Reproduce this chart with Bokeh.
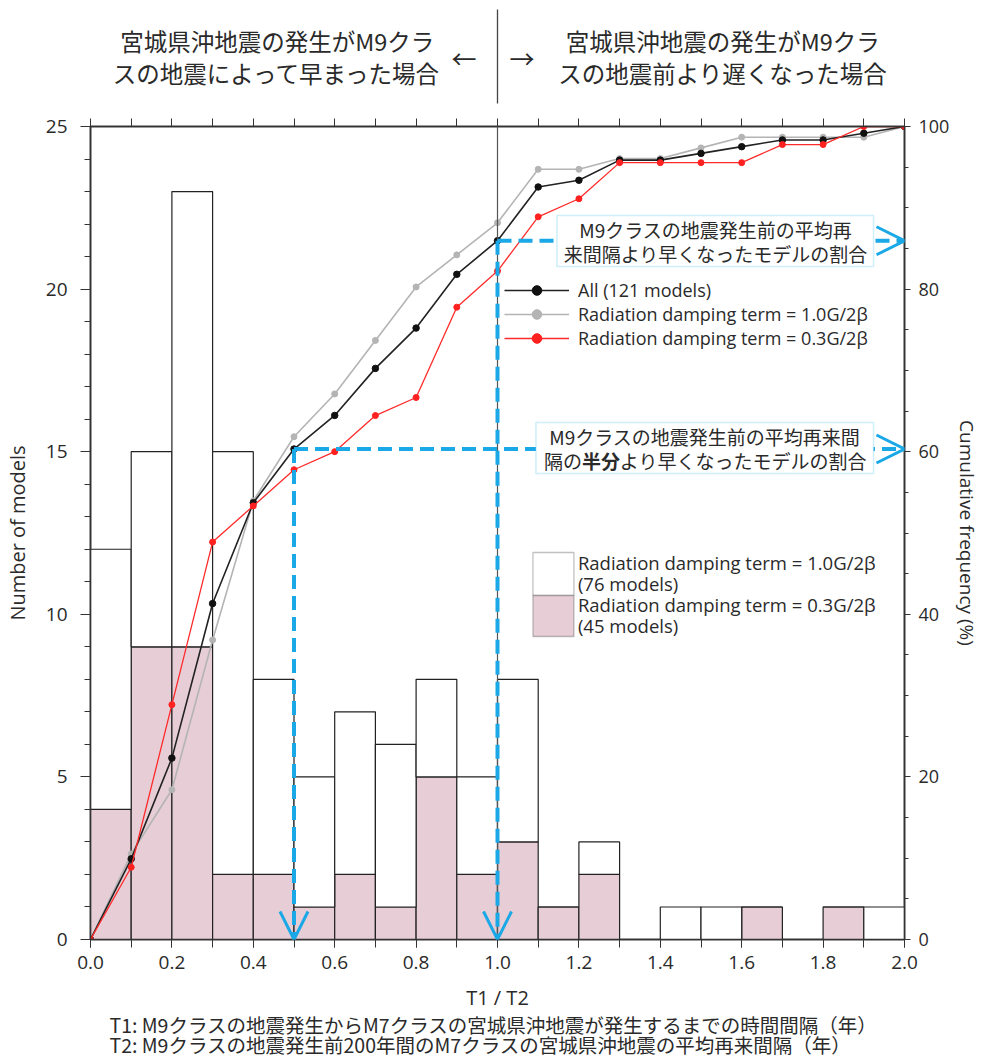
import numpy as np
from bokeh.plotting import figure
from bokeh.layouts import column
from bokeh.models import (Range1d, LinearAxis, FixedTicker, SingleIntervalTicker,
                          Legend, LegendItem, Label, Span, Arrow, OpenHead,
                          BoxAnnotation, ColumnDataSource)
from bokeh.embed import file_html
from bokeh.resources import INLINE

# ---------------- data ----------------
bin_edges = [0.0, 0.1, 0.2, 0.3, 0.4, 0.5, 0.6, 0.7, 0.8, 0.9, 1.0,
             1.1, 1.2, 1.3, 1.4, 1.5, 1.6, 1.7, 1.8, 1.9, 2.0]
# histogram counts per bin (stacked: 0.3G at bottom, 1.0G on top)
count_03 = [4, 9, 9, 2, 2, 1, 2, 1, 5, 2, 3, 1, 2, 0, 0, 0, 1, 0, 1, 0]   # 45 models
count_10 = [8, 6, 14, 13, 6, 4, 5, 5, 3, 3, 5, 0, 1, 0, 1, 1, 0, 0, 0, 1]  # 76 models

x_ticks = [0.0, 0.2, 0.4, 0.6, 0.8, 1.0, 1.2, 1.4, 1.6, 1.8, 2.0]
x_tick_labels = ["0.0", "0.2", "0.4", "0.6", "0.8", "1.0", "1.2", "1.4", "1.6", "1.8", "2.0"]

series_names = ["All (121 models)",
                "Radiation damping term = 1.0G/2\u03b2",
                "Radiation damping term = 0.3G/2\u03b2"]
hist_names = [["Radiation damping term = 1.0G/2\u03b2", "(76 models)"],
              ["Radiation damping term = 0.3G/2\u03b2", "(45 models)"]]

x_title = "T1 / T2"
top_left = ["宮城県沖地震の発生がM9クラ", "スの地震によって早まった場合"]
top_right = ["宮城県沖地震の発生がM9クラ", "スの地震前より遅くなった場合"]
box1_lines = ["M9クラスの地震発生前の平均再", "来間隔より早くなったモデルの割合"]
box2_line1 = "M9クラスの地震発生前の平均再来間"
box2_line2 = ["隔の", "半分", "より早くなったモデルの割合"]
notes = ["T1: M9クラスの地震発生からM7クラスの宮城県沖地震が発生するまでの時間間隔（年）",
         "T2: M9クラスの地震発生前200年間のM7クラスの宮城県沖地震の平均再来間隔（年）"]

# ---------------- derived ----------------
c03 = np.array(count_03)
c10 = np.array(count_10)
tot = c03 + c10
left = bin_edges[:-1]
right = bin_edges[1:]
cum_all = np.concatenate([[0], np.cumsum(tot)]) / tot.sum() * 100
cum_10 = np.concatenate([[0], np.cumsum(c10)]) / c10.sum() * 100
cum_03 = np.concatenate([[0], np.cumsum(c03)]) / c03.sum() * 100
half_pct = cum_all[bin_edges.index(0.5)]
one_pct = cum_all[bin_edges.index(1.0)]

# ---------------- layout (page pixel coordinates) ----------------
W = 993
PAGE_X0 = 0
FL, FR, FT, FB = 89, 904, 126, 939        # frame edges on the page
HEAD_H = 108
MAIN_TOP, MAIN_BOT = HEAD_H, 984
FOOT_BOT = 1060
BORDER_L = FL - PAGE_X0
BORDER_R = PAGE_X0 + W - FR
PXX = (FR - FL) / 2.0
PXY = (FB - FT) / 25.0
PXP = (FB - FT) / 100.0

def dx(px):
    return (px - FL) / PXX

def dy(py):
    return (FB - py) / PXY

def dp(py):
    return (FB - py) / PXP

FONT = "Open Sans"
JFONT = "Noto Sans CJK JP"
TXT = "#2a2a2a"
PINK = "#e6cdd6"
BLUE = "#1ba8e6"

def blank_fig(top, bot):
    # frame spans the same horizontal extent as the main frame; data x = page px
    f = figure(width=W, height=bot - top, x_range=Range1d(FL, FR),
               y_range=Range1d(bot, top), output_backend="svg", toolbar_location=None,
               x_axis_location=None, y_axis_location=None,
               min_border_left=BORDER_L, min_border_right=BORDER_R,
               min_border_top=0, min_border_bottom=0)
    f.xgrid.visible = False
    f.ygrid.visible = False
    f.outline_line_color = None
    return f

def plab(f, x, y, text, size, align="center", font=JFONT, style="normal", rng="default"):
    f.add_layout(Label(x=x, y=y, text=text, text_align=align, text_baseline="middle",
                       text_font=font, text_font_size=size, text_font_style=style,
                       text_color=TXT, y_range_name=rng))

# ---------------- header ----------------
head = blank_fig(0, HEAD_H)
plab(head, 276, 40, top_left[0], "23.5px")
plab(head, 276, 72, top_left[1], "23.5px")
plab(head, 722, 40, top_right[0], "23.5px")
plab(head, 722, 72, top_right[1], "23.5px")
plab(head, 463, 57, "\u2190", "25px")
plab(head, 521, 57, "\u2192", "25px")
xline = FL + 1.0 * PXX
head.add_layout(Arrow(x_start=xline, y_start=9, x_end=xline, y_end=103, end=None,
                      line_color="#444444", line_width=1.3))

# ---------------- main plot ----------------
p = figure(width=W, height=MAIN_BOT - MAIN_TOP, x_range=Range1d(0, 2), y_range=Range1d(0, 25),
           output_backend="svg", toolbar_location=None,
           min_border_left=BORDER_L, min_border_right=BORDER_R,
           min_border_top=FT - MAIN_TOP, min_border_bottom=MAIN_BOT - FB)
p.extra_y_ranges = {"pct": Range1d(0, 100)}
p.xgrid.visible = False
p.ygrid.visible = False
p.outline_line_color = "black"
p.outline_line_width = 1.5

def style_axis(ax, size="19px"):
    ax.axis_line_color = "#333333"
    ax.axis_line_width = 1.5
    ax.major_tick_line_color = "#333333"
    ax.minor_tick_line_color = "#333333"
    ax.major_tick_in = 0
    ax.minor_tick_in = 0
    ax.major_label_text_font = FONT
    ax.major_label_text_font_size = size
    ax.major_label_text_color = TXT
    ax.axis_label_text_font = FONT
    ax.axis_label_text_font_size = "20px"
    ax.axis_label_text_font_style = "normal"
    ax.axis_label_text_color = TXT

xa = p.xaxis[0]
xa.ticker = FixedTicker(ticks=x_ticks, minor_ticks=bin_edges)
xa.major_label_overrides = {t: l for t, l in zip(x_ticks, x_tick_labels)}
style_axis(xa)
xa.major_tick_out = 8
xa.minor_tick_out = 8
xa.major_label_standoff = 8

ya = p.yaxis[0]
ya.ticker = SingleIntervalTicker(interval=5, num_minor_ticks=5)
style_axis(ya)
ya.major_tick_out = 10
ya.minor_tick_out = 6
ya.major_label_standoff = 13
ya.axis_label = "Number of models"
ya.axis_label_standoff = 12

ta = LinearAxis(ticker=FixedTicker(ticks=[], minor_ticks=bin_edges))
style_axis(ta)
ta.minor_tick_out = 8
p.add_layout(ta, "above")

ra = LinearAxis(y_range_name="pct", ticker=SingleIntervalTicker(interval=20, num_minor_ticks=4),
                axis_label="Cumulative frequency (%)")
style_axis(ra, size="18px")
ra.axis_label_text_font_size = "19px"
ra.major_tick_out = 6
ra.minor_tick_out = 4
ra.major_label_standoff = 8
ra.axis_label_standoff = 2
if "axis_label_orientation" in ra.properties():
    ra.axis_label_orientation = "vertical"
p.add_layout(ra, "right")

# histogram
src = ColumnDataSource(dict(left=left, right=right, c03=c03, tot=tot))
q03 = p.quad(left="left", right="right", bottom=0, top="c03", source=src,
             fill_color=PINK, line_color="#222222", line_width=1.2)
q10 = p.quad(left="left", right="right", bottom="c03", top="tot", source=src,
             fill_color="white", line_color="#222222", line_width=1.2)

p.add_layout(Span(location=1.0, dimension="height", line_color="#555555", line_width=1.2))

# cumulative curves
lg = p.line(bin_edges, cum_10, y_range_name="pct", line_color="#b4b4b4", line_width=1.6)
sg = p.scatter(bin_edges, cum_10, y_range_name="pct", size=6, fill_color="#b4b4b4", line_color="#b4b4b4")
lk = p.line(bin_edges, cum_all, y_range_name="pct", line_color="#222222", line_width=1.6)
sk = p.scatter(bin_edges, cum_all, y_range_name="pct", size=6.5, fill_color="#111111", line_color="#111111")
lr = p.line(bin_edges, cum_03, y_range_name="pct", line_color="#ff2a2a", line_width=1.3)
sr = p.scatter(bin_edges, cum_03, y_range_name="pct", size=6, fill_color="#ff2020", line_color="#ff2020")

# blue dashed guides
def guide(x0, pct):
    p.add_layout(Arrow(x_start=x0, y_start=pct, x_end=x0, y_end=0, y_range_name="pct",
                       line_color=BLUE, line_width=4, line_dash="14 7",
                       end=OpenHead(size=28, line_color=BLUE, line_width=3)))
    p.add_layout(Arrow(x_start=x0, y_start=pct, x_end=2.0, y_end=pct, y_range_name="pct",
                       line_color=BLUE, line_width=4, line_dash="14 7",
                       end=OpenHead(size=28, line_color=BLUE, line_width=3)))

guide(0.5, half_pct)
guide(1.0, one_pct)

# annotation boxes
p.add_layout(BoxAnnotation(left=dx(556), right=dx(873), top=dp(215), bottom=dp(266),
                           y_range_name="pct", fill_color="white", fill_alpha=1,
                           line_color="#5cc6f2", line_width=1.5))
p.add_layout(BoxAnnotation(left=dx(535), right=dx(873), top=dp(422), bottom=dp(473),
                           y_range_name="pct", fill_color="white", fill_alpha=1,
                           line_color="#5cc6f2", line_width=1.5))

plab(p, dx(715), dp(229), box1_lines[0], "19px", rng="pct")
plab(p, dx(715), dp(253), box1_lines[1], "19px", rng="pct")
plab(p, dx(704), dp(436), box2_line1, "19px", rng="pct")
x0 = 543
plab(p, dx(x0), dp(460), box2_line2[0], "19px", align="left", rng="pct")
plab(p, dx(x0 + 38), dp(460), box2_line2[1], "19px", align="left", style="bold", rng="pct")
plab(p, dx(x0 + 76), dp(460), box2_line2[2], "19px", align="left", rng="pct")

# line legend
leg1 = Legend(items=[LegendItem(label=series_names[0], renderers=[lk, sk]),
                     LegendItem(label=series_names[1], renderers=[lg, sg]),
                     LegendItem(label=series_names[2], renderers=[lr, sr])],
              location=(414, 589), orientation="vertical",
              glyph_width=65, glyph_height=24, label_height=24, spacing=0, padding=0, margin=0,
              label_standoff=9, label_text_font=FONT, label_text_font_size="18px",
              label_text_color=TXT, border_line_color=None, background_fill_alpha=0)
p.add_layout(leg1)

# histogram legend (swatches drawn as contiguous boxes)
p.add_layout(BoxAnnotation(left=dx(532), right=dx(573), top=dy(552), bottom=dy(595),
                           fill_color="white", fill_alpha=1, line_color="#333333", line_width=1.3))
p.add_layout(BoxAnnotation(left=dx(532), right=dx(573), top=dy(595), bottom=dy(636),
                           fill_color=PINK, fill_alpha=1, line_color="#333333", line_width=1.3))
plab(p, dx(577), dy(562), hist_names[0][0], "18.5px", align="left", font=FONT)
plab(p, dx(577), dy(583), hist_names[0][1], "18.5px", align="left", font=FONT)
plab(p, dx(577), dy(604), hist_names[1][0], "18.5px", align="left", font=FONT)
plab(p, dx(577), dy(625), hist_names[1][1], "18.5px", align="left", font=FONT)

# ---------------- footer ----------------
foot = blank_fig(MAIN_BOT, FOOT_BOT)
plab(foot, FL + 1.0 * PXX, 997, x_title, "20px", font=FONT)
plab(foot, 108, 1024, notes[0], "19.5px", align="left")
plab(foot, 108, 1044, notes[1], "19.5px", align="left")

layout = column(head, p, foot, spacing=0)
open("out.html", "w").write(file_html(layout, INLINE))
